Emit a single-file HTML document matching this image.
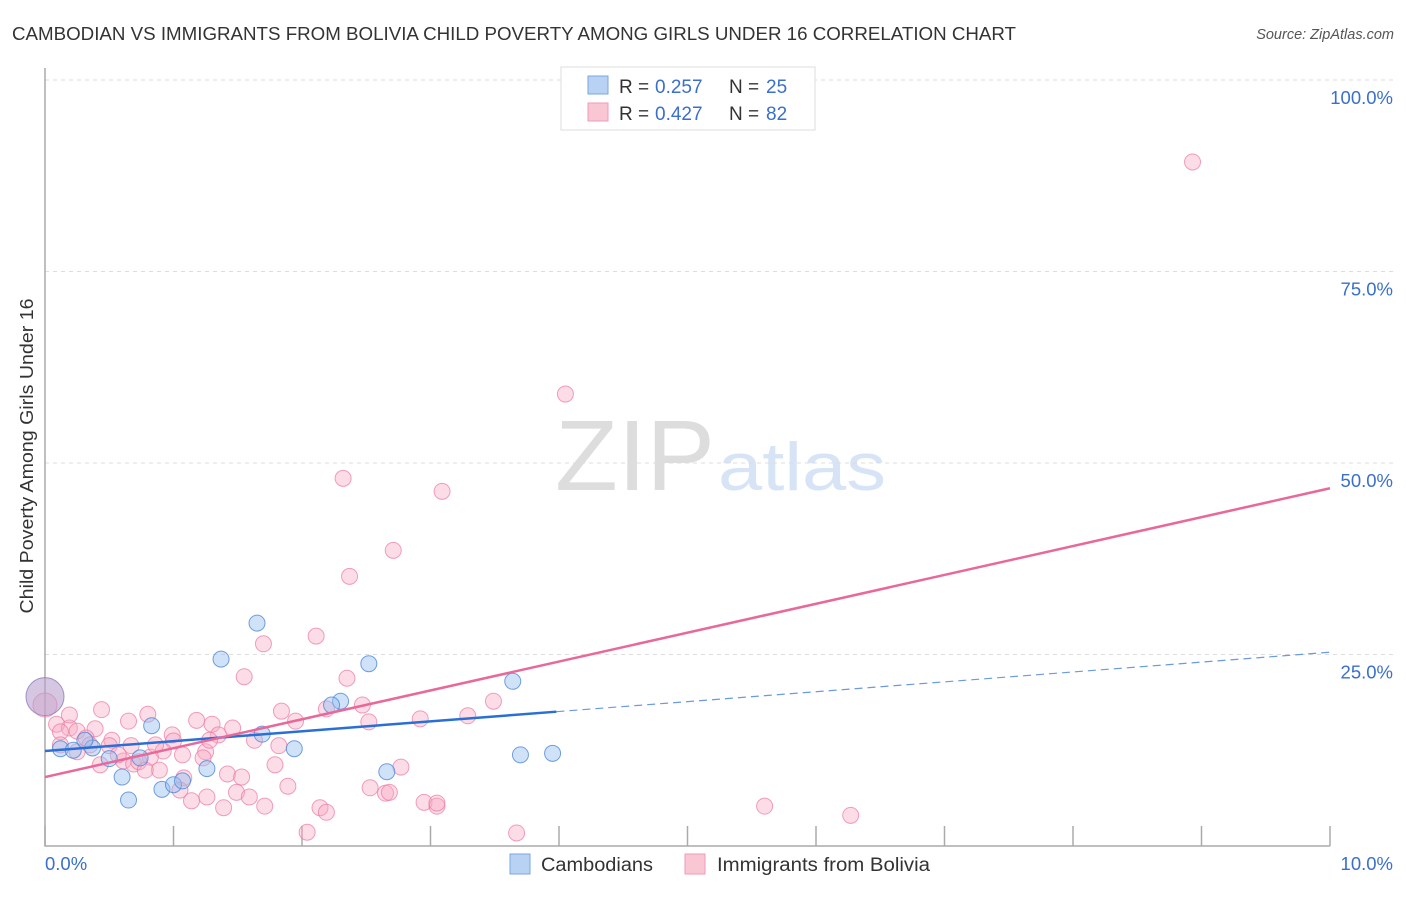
<!DOCTYPE html>
<html><head><meta charset="utf-8"><style>
body{margin:0;background:#fff;font-family:"Liberation Sans",sans-serif}
svg text{font-family:"Liberation Sans",sans-serif}
</style></head><body>
<svg id="c" width="1406" height="892">
<text x="12" y="40" font-size="18.5" fill="#333" textLength="1004" lengthAdjust="spacingAndGlyphs">CAMBODIAN VS IMMIGRANTS FROM BOLIVIA CHILD POVERTY AMONG GIRLS UNDER 16 CORRELATION CHART</text>
<text x="1394" y="39" font-size="14.5" fill="#555" font-style="italic" text-anchor="end">Source: ZipAtlas.com</text>
<text x="555" y="490" font-size="100" fill="#ddd" font-family="Liberation Serif" textLength="160" lengthAdjust="spacingAndGlyphs">ZIP</text>
<text x="718" y="490" font-size="68" fill="#d6e4f6" textLength="168" lengthAdjust="spacingAndGlyphs">atlas</text>
<g id="grid"></g>
<text transform="translate(33,456) rotate(-90)" font-size="18" fill="#333" text-anchor="middle" textLength="315" lengthAdjust="spacingAndGlyphs">Child Poverty Among Girls Under 16</text>
<g id="marks"></g>
<g>
<rect x="561" y="67" width="254" height="63" fill="#fff" stroke="#ddd"/>
<rect x="588" y="76" width="20" height="18" fill="#b8d2f4" stroke="#7aa6e0"/>
<text x="619" y="93" font-size="19" fill="#333">R =</text><text x="655" y="93" font-size="19" fill="#3a6fcc">0.257</text>
<text x="729" y="93" font-size="19" fill="#333">N =</text><text x="766" y="93" font-size="19" fill="#3a6fcc">25</text>
<rect x="588" y="103" width="20" height="18" fill="#f9c6d4" stroke="#f09ab4"/>
<text x="619" y="120" font-size="19" fill="#333">R =</text><text x="655" y="120" font-size="19" fill="#3a6fcc">0.427</text>
<text x="729" y="120" font-size="19" fill="#333">N =</text><text x="766" y="120" font-size="19" fill="#3a6fcc">82</text>
</g>
<g>
<rect x="510" y="854" width="20" height="20" fill="#b8d2f4" stroke="#7aa6e0"/>
<text x="541" y="871" font-size="19" fill="#333" textLength="112" lengthAdjust="spacingAndGlyphs">Cambodians</text>
<rect x="685" y="854" width="20" height="20" fill="#f9c6d4" stroke="#f09ab4"/>
<text x="717" y="871" font-size="19" fill="#333" textLength="213" lengthAdjust="spacingAndGlyphs">Immigrants from Bolivia</text>
</g>
</svg>
<script>
const yTicks=[25,50,75,100];
const yTickLabels=["25.0%","50.0%","75.0%","100.0%"];
const xTicks=[0,1,2,3,4,5,6,7,8,9,10];
const xEndLabels=["0.0%","10.0%"];
const blueX=[1.65,1.37,2.52,2.30,2.23,3.64,0.83,1.69,1.94,0.12,0.22,0.37,0.50,0.74,1.26,2.66,0.60,3.70,3.95,0.91,1.00,1.07,0.65,0.0,0.31];
const blueY=[29.1,24.4,23.8,18.9,18.4,21.5,15.7,14.6,12.7,12.7,12.5,12.8,11.4,11.5,10.1,9.7,9.0,11.9,12.1,7.4,8.0,8.5,6.0,19.5,13.8];
const pinkX=[8.93,4.05,2.32,3.09,2.71,2.37,2.11,1.70,1.55,2.35,3.49,2.47,2.19,1.84,3.29,2.92,1.95,2.52,1.18,1.30,0.65,0.44,0.80,0.09,0.19,0.12,0.25,0.39,0.52,0.32,0.99,1.35,1.46,1.00,0.50,0.67,0.92,1.82,1.07,1.25,1.23,0.61,0.82,0.25,0.69,0.89,0.73,1.79,2.77,1.42,1.53,1.08,1.89,1.49,1.59,1.26,1.14,1.71,1.39,2.14,2.19,2.53,2.65,2.68,2.95,3.05,3.05,5.60,6.27,2.04,3.67,0.0,0.35,0.57,0.86,0.43,0.12,0.19,0.78,1.28,1.05,1.63];
const pinkY=[89.3,59.0,48.0,46.3,38.6,35.2,27.4,26.4,22.1,21.9,18.9,18.4,17.9,17.6,17.0,16.6,16.3,16.2,16.4,15.9,16.3,17.8,17.2,15.9,15.4,14.9,15.0,15.3,13.8,14.1,14.5,14.5,15.4,13.7,13.1,13.1,12.4,13.1,11.9,12.3,11.5,11.1,11.6,12.3,10.7,9.9,11.0,10.6,10.3,9.4,9.0,8.9,7.8,7.0,6.4,6.4,5.9,5.2,5.0,5.0,4.4,7.6,6.9,7.0,5.7,5.2,5.6,5.2,4.0,1.8,1.7,18.4,13.2,11.9,13.2,10.6,13.2,17.1,9.9,13.8,7.3,13.8];
const blueTrend=[12.4,25.3]; const blueSolidEnd=3.98;
const pinkTrend=[9.0,46.7];
const NS="http://www.w3.org/2000/svg";
const sx=v=>45+v*128.5, sy=v=>846-v*7.66;
function mk(tag,attrs,parent){const e=document.createElementNS(NS,tag);for(const k in attrs)e.setAttribute(k,attrs[k]);parent.appendChild(e);return e;}
const g=document.getElementById('grid'), m=document.getElementById('marks');
yTicks.forEach((t,i)=>{
 const l=mk('line',{x1:45,x2:1393,y1:sy(t),y2:sy(t),stroke:'#ddd','stroke-dasharray':'4,4'},g);
 
 
 const tx=mk('text',{x:1393,y:sy(t)+24,'font-size':18.5,fill:'#3a6fcc','text-anchor':'end'},g);
 tx.textContent=yTickLabels[i];
 
 
});
const ax=mk('path',{d:'M45,68V846H1330',fill:'none',stroke:'#aaa','stroke-width':1.5},g);


xTicks.forEach(t=>{const l=mk('line',{x1:sx(t),x2:sx(t),y1:826,y2:846,stroke:'#aaa','stroke-width':1.5},g);
 
 });
[[0,'start'],[10,'end']].forEach((p,i)=>{const tx=mk('text',{x:i?1393:45,y:870,'font-size':18.5,fill:'#3a6fcc','text-anchor':p[1]},g);
 tx.textContent=xEndLabels[i];
 
 });
pinkX.forEach((x,i)=>{const c=mk('circle',{cx:sx(x),cy:sy(pinkY[i]),r:i==71?12:8,fill:'rgba(248,170,195,0.4)',stroke:'rgba(236,120,160,0.7)'},m);
 
 });
blueX.forEach((x,i)=>{const big=i==23;const c=mk('circle',{cx:sx(x),cy:sy(blueY[i]),r:big?19:8,fill:big?'rgba(185,160,205,0.6)':'rgba(150,190,240,0.45)',stroke:big?'rgba(140,120,190,0.8)':'rgba(70,130,215,0.75)'},m);
 
 });
const bs=blueTrend[0]+(blueTrend[1]-blueTrend[0])*blueSolidEnd/10;
const b1=mk('line',{x1:sx(0),y1:sy(blueTrend[0]),x2:sx(blueSolidEnd),y2:sy(bs),stroke:'#2a6fd6','stroke-width':2.5},m);


const b2=mk('line',{x1:sx(blueSolidEnd),y1:sy(bs),x2:sx(10),y2:sy(blueTrend[1]),stroke:'#6a9ae0','stroke-width':1.2,'stroke-dasharray':'8,5'},m);


const p1=mk('line',{x1:sx(0),y1:sy(pinkTrend[0]),x2:sx(10),y2:sy(pinkTrend[1]),stroke:'#e8689a','stroke-width':2.5},m);


</script>
</body></html>
